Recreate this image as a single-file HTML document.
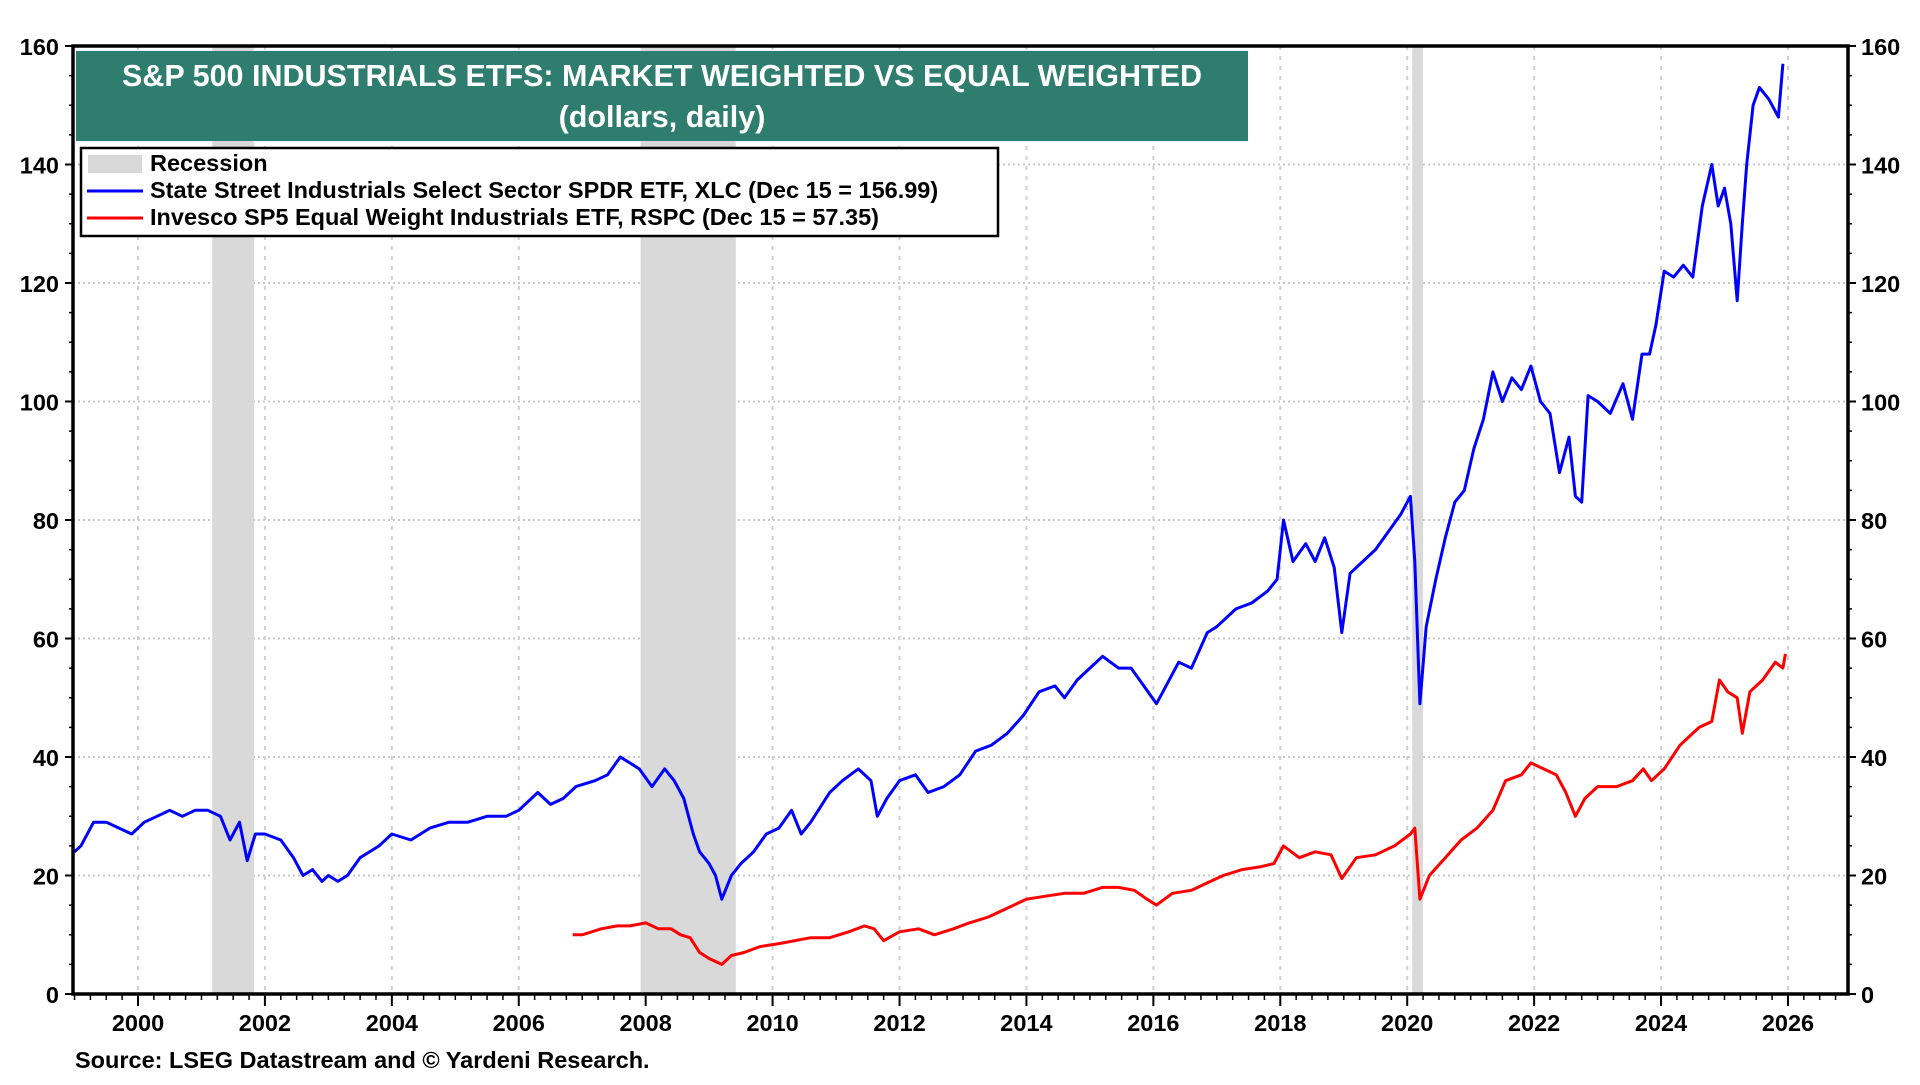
<!DOCTYPE html>
<html><head><meta charset="utf-8">
<style>
body{margin:0;background:#fff;width:1920px;height:1080px;overflow:hidden;font-family:"Liberation Sans",Arial,sans-serif}
svg text{font-family:"Liberation Sans",Arial,sans-serif;font-weight:bold}
</style></head>
<body>
<svg id="chart" width="1920" height="1080" viewBox="0 0 1920 1080" xmlns="http://www.w3.org/2000/svg">
<g id="grid"></g>
<g id="rec"></g>
<g id="series"></g>
<g id="axes"></g>
<rect x="76" y="51" width="1172" height="90" fill="#2e7d6e"/>
<text x="662" y="86" text-anchor="middle" fill="#fff" font-size="30.5">S&amp;P 500 INDUSTRIALS ETFS: MARKET WEIGHTED VS EQUAL WEIGHTED</text>
<text x="662" y="127" text-anchor="middle" fill="#fff" font-size="30.5">(dollars, daily)</text>
<g>
<rect x="81" y="148" width="917" height="88" fill="#fff" stroke="#000" stroke-width="2.5"/>
<rect x="88" y="155" width="54" height="18" fill="#d9d9d9"/>
<text x="150" y="171" font-size="23.5">Recession</text>
<line x1="87" y1="191" x2="143" y2="191" stroke="#0000ff" stroke-width="3"/>
<text x="150" y="198" font-size="23.5">State Street Industrials Select Sector SPDR ETF, XLC (Dec 15 = 156.99)</text>
<line x1="87" y1="218" x2="143" y2="218" stroke="#ff0000" stroke-width="3"/>
<text x="150" y="225" font-size="23.5">Invesco SP5 Equal Weight Industrials ETF, RSPC (Dec 15 = 57.35)</text>
</g>
<text x="75" y="1068" font-size="23.5">Source: LSEG Datastream and © Yardeni Research.</text>
</svg>
<script>
const yTicks=[0,20,40,60,80,100,120,140,160];
const xYears=[2000,2002,2004,2006,2008,2010,2012,2014,2016,2018,2020,2022,2024,2026];
const recessions=[[2001.17,2001.83],[2007.92,2009.42],[2020.08,2020.25]];
const xliDates=[1999.0,1999.1,1999.3,1999.5,1999.7,1999.9,2000.1,2000.3,2000.5,2000.7,2000.9,2001.1,2001.3,2001.45,2001.6,2001.72,2001.85,2002.0,2002.25,2002.45,2002.6,2002.75,2002.9,2003.0,2003.15,2003.3,2003.5,2003.8,2004.0,2004.3,2004.6,2004.9,2005.2,2005.5,2005.8,2006.0,2006.3,2006.5,2006.7,2006.9,2007.2,2007.4,2007.6,2007.75,2007.9,2008.1,2008.3,2008.45,2008.6,2008.75,2008.85,2009.0,2009.1,2009.2,2009.35,2009.5,2009.7,2009.9,2010.1,2010.3,2010.45,2010.6,2010.9,2011.1,2011.35,2011.55,2011.65,2011.8,2012.0,2012.25,2012.45,2012.7,2012.95,2013.2,2013.45,2013.7,2013.95,2014.2,2014.45,2014.6,2014.8,2015.0,2015.2,2015.45,2015.65,2015.85,2016.05,2016.15,2016.4,2016.6,2016.85,2017.0,2017.3,2017.55,2017.8,2017.95,2018.05,2018.2,2018.4,2018.55,2018.7,2018.85,2018.97,2019.1,2019.3,2019.5,2019.7,2019.9,2020.05,2020.12,2020.2,2020.3,2020.45,2020.6,2020.75,2020.9,2021.05,2021.2,2021.35,2021.5,2021.65,2021.8,2021.95,2022.1,2022.25,2022.4,2022.55,2022.65,2022.75,2022.85,2023.0,2023.2,2023.4,2023.55,2023.7,2023.82,2023.92,2024.05,2024.2,2024.35,2024.5,2024.65,2024.8,2024.9,2025.0,2025.1,2025.2,2025.28,2025.35,2025.45,2025.55,2025.7,2025.85,2025.92,2025.96];
const xliValues=[24,25,29,29,28,27,29,30,31,30,31,31,30,26,29,22.5,27,27,26,23,20,21,19,20,19,20,23,25,27,26,28,29,29,30,30,31,34,32,33,35,36,37,40,39,38,35,38,36,33,27,24,22,20,16,20,22,24,27,28,31,27,29,34,36,38,36,30,33,36,37,34,35,37,41,42,44,47,51,52,50,53,55,57,55,55,52,49,51,56,55,61,62,65,66,68,70,80,73,76,73,77,72,61,71,73,75,78,81,84,73,49,62,70,77,83,85,92,97,105,100,104,102,106,100,98,88,94,84,83,101,100,98,103,97,108,108,113,122,121,123,121,133,140,133,136,130,117,130,140,150,153,151,148,157];
const rspDates=[2006.85,2007.0,2007.3,2007.55,2007.75,2008.0,2008.2,2008.4,2008.55,2008.7,2008.85,2009.0,2009.2,2009.35,2009.55,2009.8,2010.1,2010.35,2010.6,2010.9,2011.2,2011.45,2011.6,2011.75,2012.0,2012.3,2012.55,2012.85,2013.1,2013.4,2013.7,2014.0,2014.3,2014.6,2014.9,2015.2,2015.45,2015.7,2015.9,2016.05,2016.3,2016.6,2016.9,2017.1,2017.4,2017.7,2017.9,2018.05,2018.3,2018.55,2018.8,2018.97,2019.2,2019.5,2019.8,2020.05,2020.12,2020.2,2020.35,2020.6,2020.85,2021.1,2021.35,2021.55,2021.8,2021.95,2022.15,2022.35,2022.5,2022.65,2022.8,2023.0,2023.3,2023.55,2023.72,2023.85,2024.05,2024.3,2024.6,2024.8,2024.92,2025.05,2025.2,2025.28,2025.4,2025.6,2025.8,2025.92,2025.96];
const rspValues=[10,10,11,11.5,11.5,12,11,11,10,9.5,7,6,5,6.5,7,8,8.5,9,9.5,9.5,10.5,11.5,11,9,10.5,11,10,11,12,13,14.5,16,16.5,17,17,18,18,17.5,16,15,17,17.5,19,20,21,21.5,22,25,23,24,23.5,19.5,23,23.5,25,27,28,16,20,23,26,28,31,36,37,39,38,37,34,30,33,35,35,36,38,36,38,42,45,46,53,51,50,44,51,53,56,55,57.4];

const X0=138,PX=63.46,Y0=994,PY=(994-46)/160,L=73,R=1848,T=46,B=994;
const xs=v=>X0+(v-2000)*PX, ys=v=>Y0-v*PY;
const NS='http://www.w3.org/2000/svg';
function mk(parent,tag,attrs){const e=document.createElementNS(NS,tag);for(const k in attrs)e.setAttribute(k,attrs[k]);document.getElementById(parent).appendChild(e);return e;}
yTicks.forEach(v=>{if(v>0&&v<160){const g=mk('grid','line',{x1:L,x2:R,y1:ys(v),y2:ys(v),stroke:'#c8c8c8','stroke-width':2,'stroke-dasharray':'2,3'});

}});
xYears.forEach(v=>{const g=mk('grid','line',{x1:xs(v),x2:xs(v),y1:T,y2:B,stroke:'#d0d0d0','stroke-width':2,'stroke-dasharray':'4,6'});

});
recessions.forEach(r=>{const e=mk('rec','rect',{x:xs(r[0]),y:T,width:xs(r[1])-xs(r[0]),height:B-T,fill:'#d9d9d9'});

});
function line(d,v,c,name){const p=d.map((t,i)=>(i?'L':'M')+xs(t).toFixed(1)+','+ys(v[i]).toFixed(1)).join('');
const e=mk('series','path',{d:p,fill:'none',stroke:c,'stroke-width':3,'stroke-linejoin':'round'});

}
line(xliDates,xliValues,'#0000ff','xli-line');
line(rspDates,rspValues,'#ff0000','rspc-line');
const fr=mk('axes','rect',{x:L,y:T,width:R-L,height:B-T,fill:'none',stroke:'#000','stroke-width':3.5});


yTicks.forEach(v=>{
mk('axes','line',{x1:L-8,x2:L,y1:ys(v),y2:ys(v),stroke:'#000','stroke-width':2});
mk('axes','line',{x1:R,x2:R+8,y1:ys(v),y2:ys(v),stroke:'#000','stroke-width':2});
const a=mk('axes','text',{x:L-14,y:ys(v)+9,'text-anchor':'end','font-size':23.5});a.textContent=v;


const b=mk('axes','text',{x:R+13,y:ys(v)+9,'font-size':23.5});b.textContent=v;


if(v<160){for(let k=1;k<4;k++){const yy=ys(v+k*5);mk('axes','line',{x1:L-4,x2:L,y1:yy,y2:yy,stroke:'#000','stroke-width':1.5});mk('axes','line',{x1:R,x2:R+4,y1:yy,y2:yy,stroke:'#000','stroke-width':1.5});}}
});
for(let q=1999;q<=2027;q+=0.25){const x=xs(q);if(x<L||x>R)continue;mk('axes','line',{x1:x,x2:x,y1:B,y2:B+6,stroke:'#000','stroke-width':1.5});}
xYears.forEach(v=>{mk('axes','line',{x1:xs(v),x2:xs(v),y1:B,y2:B+12,stroke:'#000','stroke-width':2});
const t=mk('axes','text',{x:xs(v),y:B+37,'text-anchor':'middle','font-size':23.5});t.textContent=v;

});
</script>
</body></html>
